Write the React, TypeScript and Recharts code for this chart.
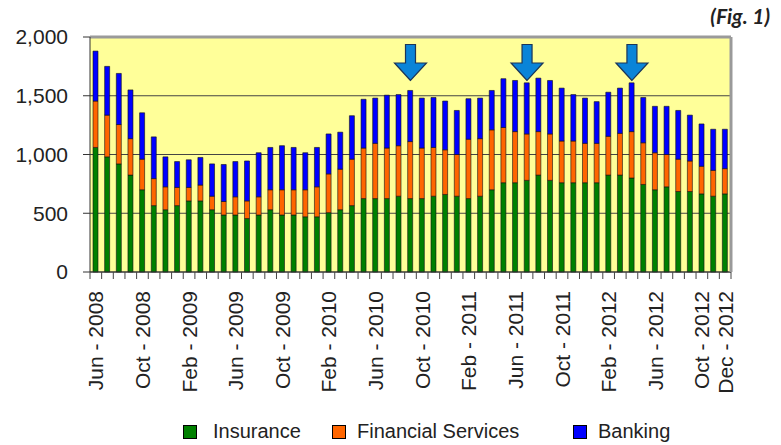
import React from 'react';
import { BarChart, Bar, XAxis, YAxis, CartesianGrid, ReferenceDot, ReferenceLine } from 'recharts';

// monthly categories, Jun 2008 - Dec 2012
const MONTHS = [
  'Jun - 2008', 'Jul - 2008', 'Aug - 2008', 'Sep - 2008', 'Oct - 2008', 'Nov - 2008', 'Dec - 2008',
  'Jan - 2009', 'Feb - 2009', 'Mar - 2009', 'Apr - 2009', 'May - 2009', 'Jun - 2009', 'Jul - 2009',
  'Aug - 2009', 'Sep - 2009', 'Oct - 2009', 'Nov - 2009', 'Dec - 2009', 'Jan - 2010', 'Feb - 2010',
  'Mar - 2010', 'Apr - 2010', 'May - 2010', 'Jun - 2010', 'Jul - 2010', 'Aug - 2010', 'Sep - 2010',
  'Oct - 2010', 'Nov - 2010', 'Dec - 2010', 'Jan - 2011', 'Feb - 2011', 'Mar - 2011', 'Apr - 2011',
  'May - 2011', 'Jun - 2011', 'Jul - 2011', 'Aug - 2011', 'Sep - 2011', 'Oct - 2011', 'Nov - 2011',
  'Dec - 2011', 'Jan - 2012', 'Feb - 2012', 'Mar - 2012', 'Apr - 2012', 'May - 2012', 'Jun - 2012',
  'Jul - 2012', 'Aug - 2012', 'Sep - 2012', 'Oct - 2012', 'Nov - 2012', 'Dec - 2012',
];

const INSURANCE = [
  1060, 980, 920, 825, 700, 565, 530, 565, 605, 605,
  530, 485, 485, 455, 485, 530, 485, 485, 470, 470,
  505, 530, 565, 625, 625, 625, 645, 625, 625, 645,
  660, 645, 625, 645, 700, 760, 760, 780, 825, 780,
  760, 760, 760, 760, 825, 825, 800, 745, 700, 725,
  685, 685, 665, 645, 665,
];

const FINANCIAL = [
  395, 355, 335, 310, 260, 230, 195, 155, 115, 135,
  115, 115, 155, 150, 155, 170, 215, 215, 230, 255,
  330, 345, 395, 430, 470, 430, 430, 485, 430, 415,
  380, 355, 505, 490, 510, 470, 435, 395, 370, 395,
  355, 355, 335, 335, 330, 355, 395, 355, 315, 275,
  275, 260, 235, 220, 215,
];

const BANKING = [
  425, 415, 435, 415, 395, 355, 255, 220, 235, 235,
  275, 315, 300, 340, 375, 360, 375, 360, 315, 335,
  340, 315, 370, 415, 385, 450, 435, 435, 425, 425,
  415, 375, 345, 345, 335, 415, 435, 435, 455, 455,
  450, 395, 385, 355, 375, 385, 415, 385, 395, 410,
  415, 390, 360, 350, 335,
];

const TICK_LABELS = [
  'Jun - 2008', 'Oct - 2008', 'Feb - 2009', 'Jun - 2009', 'Oct - 2009', 'Feb - 2010',
  'Jun - 2010', 'Oct - 2010', 'Feb - 2011', 'Jun - 2011', 'Oct - 2011', 'Feb - 2012',
  'Jun - 2012', 'Oct - 2012', 'Dec - 2012',
];

const Y_TICKS = [0, 500, 1000, 1500, 2000];

// months marked with an arrow, and the value where the arrow tip sits
const ARROW_MONTHS = ['Sep - 2010', 'Jul - 2011', 'Apr - 2012'];
const ARROW_TIP = 1630;

const data = MONTHS.map((month, i) => ({
  month,
  insurance: INSURANCE[i],
  financial: FINANCIAL[i],
  banking: BANKING[i],
}));

const FONT = '"Liberation Sans", Arial, sans-serif';
const PLOT_LEFT = 90;
const PLOT_RIGHT = 731;
const HALF_BAND = (PLOT_RIGHT - PLOT_LEFT) / MONTHS.length / 2;

const MonthTick = (props: any) => {
  const { x, y, payload, index } = props;
  const label = payload.value as string;
  return (
    <g>
      <line x1={x - HALF_BAND} y1={y} x2={x - HALF_BAND} y2={y + 7} stroke="#444" />
      {index === MONTHS.length - 1 && (
        <line x1={x + HALF_BAND} y1={y} x2={x + HALF_BAND} y2={y + 7} stroke="#444" />
      )}
      {TICK_LABELS.includes(label) && (
        <text
          transform={`translate(${x},${y + 19}) rotate(-90)`}
          textAnchor="end"
          dy="0.36em"
          fontSize={21}
          fontFamily={FONT}
          fill="#222"
        >
          {label}
        </text>
      )}
    </g>
  );
};

const DownArrow = (props: any) => {
  const { cx, cy } = props;
  const pts = [
    [cx, cy],
    [cx - 16, cy - 17.5],
    [cx - 5, cy - 17.5],
    [cx - 5, cy - 36],
    [cx + 5, cy - 36],
    [cx + 5, cy - 17.5],
    [cx + 16, cy - 17.5],
  ]
    .map((p) => p.join(','))
    .join(' ');
  return <polygon points={pts} fill="#0A84D8" stroke="#1B3558" strokeWidth={1.2} />;
};

const legendItems = [
  { name: 'Insurance', color: '#008000', box: 183, text: 213 },
  { name: 'Financial Services', color: '#FF6600', box: 332, text: 357 },
  { name: 'Banking', color: '#0000FF', box: 573, text: 598 },
];

export default function App() {
  return (
    <div style={{ position: 'absolute', left: 0, top: 0, width: 781, height: 445, background: '#fff' }}>
      <BarChart width={781} height={445} data={data} margin={{ top: 37, right: 0, left: 0, bottom: 0 }}>
        <CartesianGrid vertical={false} fill="#FFFF99" stroke="#444" />
        <XAxis
          dataKey="month"
          interval={0}
          height={173}
          tickLine={false}
          tickSize={0}
          tickMargin={0}
          axisLine={{ stroke: '#333' }}
          tick={<MonthTick />}
        />
        <YAxis
          width={90}
          domain={[0, 2000]}
          ticks={Y_TICKS}
          tickSize={7}
          tickMargin={15}
          axisLine={{ stroke: '#333' }}
          tickLine={{ stroke: '#333' }}
          tickFormatter={(v: number) => v.toLocaleString('en-US')}
          tick={{ fontSize: 21, fontFamily: FONT, fill: '#222' }}
        />
        <YAxis
          yAxisId="right"
          orientation="right"
          width={50}
          tick={false}
          tickLine={false}
          axisLine={{ stroke: '#9a9a9a', strokeWidth: 3 }}
        />
        <ReferenceLine y={2000} stroke="#9a9a9a" strokeWidth={3} />
        <Bar dataKey="insurance" stackId="a" fill="#008000" stroke="#111" strokeWidth={0.6} barSize={5} isAnimationActive={false} />
        <Bar dataKey="financial" stackId="a" fill="#FF6600" stroke="#111" strokeWidth={0.6} barSize={5} isAnimationActive={false} />
        <Bar dataKey="banking" stackId="a" fill="#0000FF" stroke="#111" strokeWidth={0.6} barSize={5} isAnimationActive={false} />
        {ARROW_MONTHS.map((m) => (
          <ReferenceDot key={m} x={m} y={ARROW_TIP} shape={<DownArrow />} />
        ))}
      </BarChart>

      <div
        style={{
          position: 'absolute',
          right: 11,
          top: 3,
          fontFamily: 'Lato, "Open Sans", sans-serif',
          fontWeight: 700,
          fontStyle: 'italic',
          fontSize: 21,
          color: '#222',
        }}
      >
        (Fig. 1)
      </div>

      {legendItems.map((it) => (
        <React.Fragment key={it.name}>
          <div
            style={{
              position: 'absolute',
              left: it.box,
              top: 425,
              width: 12,
              height: 12,
              background: it.color,
              border: '1.5px solid #000',
            }}
          />
          <div
            style={{
              position: 'absolute',
              left: it.text,
              top: 420,
              fontFamily: FONT,
              fontSize: 20,
              lineHeight: '23px',
              color: '#222',
              whiteSpace: 'nowrap',
            }}
          >
            {it.name}
          </div>
        </React.Fragment>
      ))}
    </div>
  );
}
